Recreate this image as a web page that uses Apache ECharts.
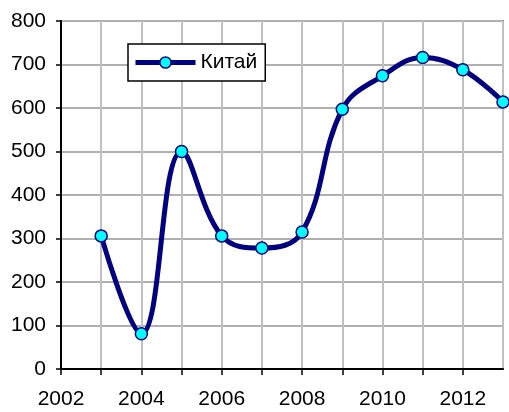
<!DOCTYPE html>
<html>
<head>
<meta charset="utf-8">
<script src="https://cdn.jsdelivr.net/npm/echarts@6/dist/echarts.min.js"></script>
<style>
html,body{margin:0;padding:0;background:#fff;}
#chart{width:509px;height:412px;}
</style>
</head>
<body>
<div id="chart"></div>
<script>
var years = [2003, 2004, 2005, 2006, 2007, 2008, 2009, 2010, 2011, 2012, 2013];
var chinaValues = [306, 81, 500, 306, 278, 315, 597, 674, 716, 688, 614];
var seriesName = 'Китай';
var xTickLabels = ['2002', '2004', '2006', '2008', '2010', '2012'];

var data = years.map(function (y, i) { return [y, chinaValues[i]]; });
var font = 'Liberation Sans, Arial, sans-serif';

var chart = echarts.init(document.getElementById('chart'), null, {renderer: 'canvas'});
chart.setOption({
  animation: false,
  backgroundColor: '#fff',
  grid: {left: 61, right: 6, top: 21, bottom: 43, show: true, borderColor: '#808080', borderWidth: 2, backgroundColor: 'transparent'},
  legend: {
    show: true,
    left: 128, top: 44,
    orient: 'horizontal',
    backgroundColor: '#fff',
    borderColor: '#000',
    borderWidth: 1.5,
    borderRadius: 0,
    padding: [8, 8, 8, 5],
    itemWidth: 60, itemHeight: 14,
    itemGap: 4,
    lineStyle: {width: 5, color: '#000080'},
    itemStyle: {color: '#00ffff', borderColor: '#000080', borderWidth: 1.5},
    textStyle: {fontFamily: font, fontSize: 21, color: '#000', padding: [0, 0, 0, 0]},
    data: [seriesName]
  },
  xAxis: {
    type: 'value', min: 2002, max: 2013, interval: 1,
    axisLine: {show: true, onZero: false, lineStyle: {color: '#000', width: 2}},
    axisTick: {show: true, length: 6, lineStyle: {color: '#000', width: 1.5}},
    axisLabel: {
      fontFamily: font, fontSize: 21, color: '#000', margin: 20,
      showMaxLabel: false,
      formatter: function (v) { var s = String(v); return xTickLabels.indexOf(s) >= 0 ? s : ''; }
    },
    splitLine: {show: true, lineStyle: {color: '#c0c0c0', width: 2}}
  },
  yAxis: {
    type: 'value', min: 0, max: 800, interval: 100,
    axisLine: {show: true, lineStyle: {color: '#000', width: 2}},
    axisTick: {show: true, length: 5, lineStyle: {color: '#000', width: 1.5}},
    axisLabel: {fontFamily: font, fontSize: 21, color: '#000', margin: 15},
    splitLine: {show: true, lineStyle: {color: '#b0b0b0', width: 2}}
  },
  series: [{
    name: seriesName,
    type: 'line',
    data: data,
    smooth: 0.4,
    symbol: 'circle',
    symbolSize: 12,
    lineStyle: {color: '#000080', width: 5},
    itemStyle: {color: '#00ffff', borderColor: '#000080', borderWidth: 1.5},
    z: 5
  }]
});
</script>
</body>
</html>
